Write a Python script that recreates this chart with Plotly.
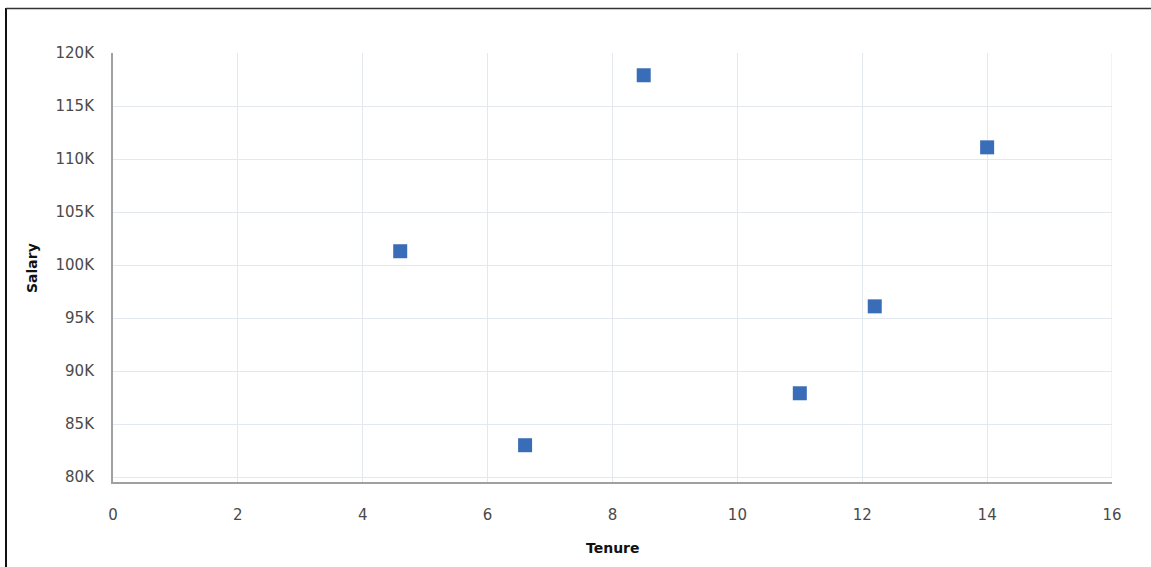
import plotly.graph_objects as go

tenure = [4.6, 6.6, 8.5, 11.0, 12.2, 14.0]
salary = [101300, 83000, 117900, 87900, 96100, 111100]

y_tick_vals = [80000, 85000, 90000, 95000, 100000, 105000, 110000, 115000, 120000]
y_tick_text = ["80K", "85K", "90K", "95K", "100K", "105K", "110K", "115K", "120K"]
x_tick_vals = [0, 2, 4, 6, 8, 10, 12, 14, 16]

W, H = 1151, 567
L, R, T, B = 113, 39, 53, 85
pw, ph = W - L - R, H - T - B

def px_x(p):
    return (p - L) / pw

def px_y(p):
    return (H - B - p) / ph

fig = go.Figure()
fig.add_trace(go.Scatter(
    x=tenure, y=salary, mode="markers",
    marker=dict(symbol="square", size=14, color="#3A6DB7", line=dict(width=0)),
    showlegend=False, hoverinfo="x+y",
))

tick_font = dict(family="DejaVu Sans", size=15, color="#4a4a4a")
fig.update_layout(
    width=W, height=H,
    margin=dict(l=L, r=R, t=T, b=B),
    paper_bgcolor="white", plot_bgcolor="white",
    xaxis=dict(
        range=[0, 16], tickvals=x_tick_vals, showgrid=True, gridcolor="#e3e7ee", gridwidth=1,
        showline=True, linecolor="#a0a0a0", linewidth=2, zeroline=False,
        tickfont=tick_font, ticks="", ticklabelstandoff=18, mirror=False,
    ),
    yaxis=dict(
        range=[79530, 120000], tickvals=y_tick_vals, ticktext=y_tick_text,
        showgrid=True, gridcolor="#e3e7ee", gridwidth=1,
        showline=True, linecolor="#a0a0a0", linewidth=2, zeroline=False,
        tickfont=tick_font, ticks="", ticklabelstandoff=14,
    ),
    annotations=[
        dict(text="<b>Tenure</b>", x=px_x(613), y=px_y(548), xref="paper", yref="paper",
             showarrow=False, xanchor="center", yanchor="middle",
             font=dict(family="DejaVu Sans", size=14, color="#111")),
        dict(text="<b>Salary</b>", x=px_x(32), y=px_y(268), xref="paper", yref="paper",
             showarrow=False, xanchor="center", yanchor="middle", textangle=-90,
             font=dict(family="DejaVu Sans", size=14, color="#111")),
    ],
    shapes=[
        dict(type="line", xref="paper", yref="paper", x0=px_x(6), x1=px_x(6), y0=px_y(8), y1=px_y(600),
             line=dict(color="#111", width=2)),
        dict(type="line", xref="paper", yref="paper", x0=px_x(6), x1=px_x(1200), y0=px_y(8.5), y1=px_y(8.5),
             line=dict(color="#333", width=1.5)),
    ],
)
fig.add_shape(type="line", xref="x", yref="y", x0=16, x1=16, y0=80000, y1=120000,
              line=dict(color="#e3e7ee", width=1), layer="below")
fig.write_html("out.html", config={"displayModeBar": False},
               post_script="document.body.style.margin='0';document.body.style.overflow='hidden';")
